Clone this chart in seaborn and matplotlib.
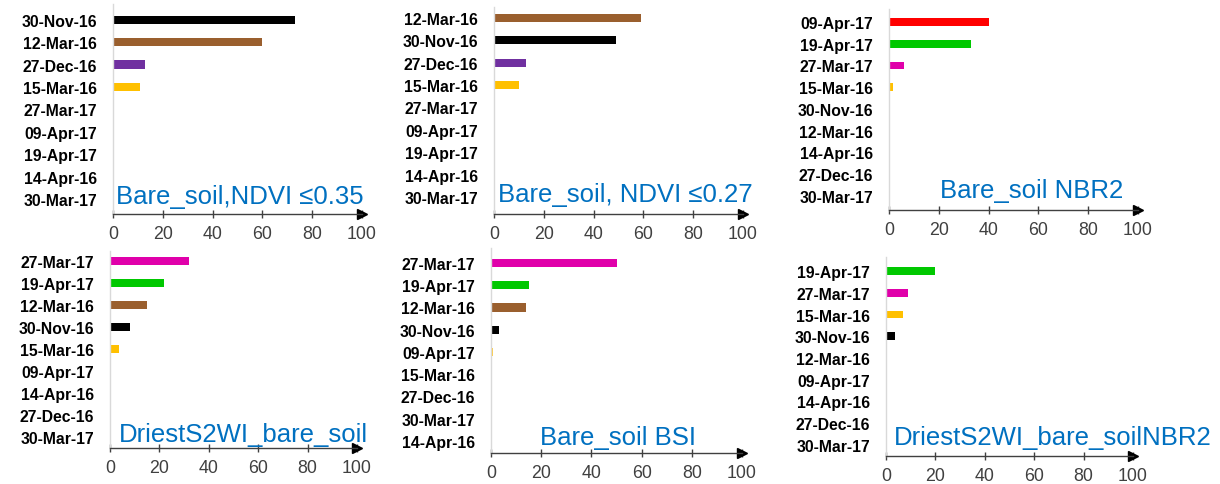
import matplotlib
matplotlib.use("Agg")
import matplotlib.pyplot as plt
import seaborn as sns
import pandas as pd

# ---------------- data ----------------
p1_labels = ["30-Nov-16", "12-Mar-16", "27-Dec-16", "15-Mar-16", "27-Mar-17",
             "09-Apr-17", "19-Apr-17", "14-Apr-16", "30-Mar-17"]
p1_values = [73, 60, 13, 11, 0, 0, 0, 0, 0]
p1_title = "Bare_soil,NDVI \u22640.35"

p2_labels = ["12-Mar-16", "30-Nov-16", "27-Dec-16", "15-Mar-16", "27-Mar-17",
             "09-Apr-17", "19-Apr-17", "14-Apr-16", "30-Mar-17"]
p2_values = [59, 49, 13, 10, 0, 0, 0, 0, 0]
p2_title = "Bare_soil, NDVI \u22640.27"

p3_labels = ["09-Apr-17", "19-Apr-17", "27-Mar-17", "15-Mar-16", "30-Nov-16",
             "12-Mar-16", "14-Apr-16", "27-Dec-16", "30-Mar-17"]
p3_values = [40, 33, 6, 1.8, 0, 0, 0, 0, 0]
p3_title = "Bare_soil NBR2"

p4_labels = ["27-Mar-17", "19-Apr-17", "12-Mar-16", "30-Nov-16", "15-Mar-16",
             "09-Apr-17", "14-Apr-16", "27-Dec-16", "30-Mar-17"]
p4_values = [32, 22, 15, 8, 3.5, 0, 0, 0, 0]
p4_title = "DriestS2WI_bare_soil"

p5_labels = ["27-Mar-17", "19-Apr-17", "12-Mar-16", "30-Nov-16", "09-Apr-17",
             "15-Mar-16", "27-Dec-16", "30-Mar-17", "14-Apr-16"]
p5_values = [50, 15, 14, 3, 0.8, 0, 0, 0, 0]
p5_title = "Bare_soil BSI"

p6_labels = ["19-Apr-17", "27-Mar-17", "15-Mar-16", "30-Nov-16", "12-Mar-16",
             "09-Apr-17", "14-Apr-16", "27-Dec-16", "30-Mar-17"]
p6_values = [20, 9, 7, 3.5, 0, 0, 0, 0, 0]
p6_title = "DriestS2WI_bare_soilNBR2"

ticks = [0, 20, 40, 60, 80, 100]

# ---------------- styles ----------------
date_colors = {
    "30-Nov-16": "#000000",
    "12-Mar-16": "#9A5F2E",
    "27-Dec-16": "#7030A0",
    "15-Mar-16": "#FFC000",
    "09-Apr-17": "#FF0000",
    "19-Apr-17": "#00C800",
    "27-Mar-17": "#E000AA",
    "14-Apr-16": "#888888",
    "30-Mar-17": "#888888",
}
p5_colors = dict(date_colors)
p5_colors["09-Apr-17"] = "#FFCC40"

W, H = 1220, 485
sns.set_theme(style="white")
plt.rcParams["font.family"] = ["Liberation Sans", "DejaVu Sans"]

fig = plt.figure(figsize=(W / 100, H / 100), dpi=100)

# layout in pixels: x at 0, x at 100, axis y, first row y, last row y, top y, title (cx, baseline)
panels = [
    (p1_labels, p1_values, p1_title, date_colors, 113, 362, 215, 20.7, 200, 5, 240, 204),
    (p2_labels, p2_values, p2_title, date_colors, 494, 743, 215, 19, 198, 8, 625, 202),
    (p3_labels, p3_values, p3_title, date_colors, 889, 1138, 211, 23, 197, 10, 1032, 198),
    (p4_labels, p4_values, p4_title, date_colors, 110, 357, 449, 262, 438, 252, 243, 442),
    (p5_labels, p5_values, p5_title, p5_colors, 491, 742, 454, 264, 442, 249, 618, 445),
    (p6_labels, p6_values, p6_title, date_colors, 886, 1133, 457, 272, 446, 258, 1053, 445),
]

for labels, values, title, pal, x0, x1, ay, r0, r8, ty, tcx, tby in panels:
    ax = fig.add_axes([x0 / W, 1 - ay / H, (x1 - x0) / W, (ay - ty) / H])
    df = pd.DataFrame({"date": labels, "value": values})
    sns.barplot(data=df, y="date", x="value", hue="date", palette=pal,
                order=labels, hue_order=labels, orient="h", width=0.36,
                legend=False, linewidth=0, dodge=False, saturation=1, ax=ax)
    sp = (r8 - r0) / (len(labels) - 1)
    ax.set_ylim(len(labels) - 1 + (ay - r8) / sp, -(r0 - ty) / sp)
    ax.set_xlim(0, 100)
    ax.set_xticks(ticks)
    ax.set_xticklabels([str(t) for t in ticks])
    ax.set_xlabel("")
    ax.set_ylabel("")
    for s in ["top", "right"]:
        ax.spines[s].set_visible(False)
    ax.spines["left"].set_color("#D9D9D9")
    ax.spines["left"].set_linewidth(1.0)
    ax.spines["bottom"].set_color("#404040")
    ax.spines["bottom"].set_linewidth(1.0)
    ax.tick_params(axis="x", direction="inout", length=6, width=1, color="#404040",
                   labelsize=12.8, labelcolor="#404040", pad=5, bottom=True)
    ax.tick_params(axis="y", length=0, pad=11.5, labelsize=11.3)
    for t in ax.get_yticklabels():
        t.set_fontweight("bold")
        t.set_color("#000000")
    ax.plot(1.0, 0, marker=">", color="#000000", markersize=6.5,
            transform=ax.transAxes, clip_on=False)
    ax.grid(False)
    fig.text(tcx / W, 1 - tby / H, title, ha="center", va="baseline",
             fontsize=18.5, color="#0070C0")

fig.savefig("out.png", dpi=100, facecolor="white")
